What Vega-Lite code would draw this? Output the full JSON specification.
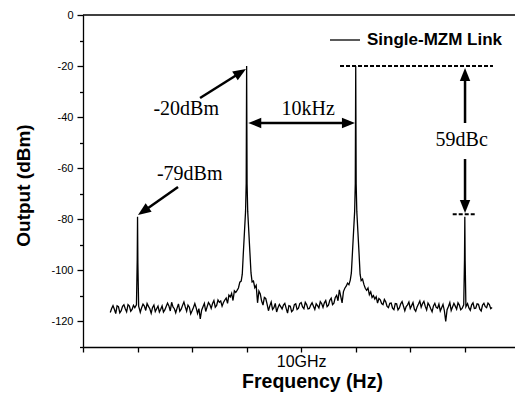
{
"$schema": "https://vega.github.io/schema/vega-lite/v6.json",
"width": 432, "height": 332,
"autosize": {"type": "none"},
"padding": {"left": 83, "top": 15, "right": 0, "bottom": 51},
"config": {
  "font": "Liberation Sans",
  "view": {"stroke": null},
  "axis": {"grid": false, "domainColor": "black", "tickColor": "black", "labelColor": "black", "titleColor": "black", "domainWidth": 1.3, "tickWidth": 1.3}
},
"encoding": {
  "x": {"field": "f", "type": "quantitative", "scale": {"domain": [-20, 19.6], "nice": false, "zero": false},
    "axis": {"title": "Frequency (Hz)", "values": [-20,-15,-10,-5,0,5,10,15], "labelExpr": "datum.value === 0 ? '10GHz' : ''", "labelFontSize": 16, "labelPadding": 1, "tickSize": 5, "labelFlush": false, "labelOverlap": false, "titleFontSize": 19.5, "titleFontWeight": "bold", "titleX": 229, "titleY": 40, "titleBaseline": "alphabetic"}},
  "y": {"field": "p", "type": "quantitative", "scale": {"domain": [-130, 0], "nice": false, "zero": false},
    "axis": {"title": "Output (dBm)", "values": [0,-10,-20,-30,-40,-50,-60,-70,-80,-90,-100,-110,-120,-130], "labelExpr": "datum.value % 20 === 0 ? '' + datum.value : ''", "labelFontSize": 11, "labelPadding": 4, "labelFlush": false, "labelOverlap": false, "tickSize": {"condition": {"test": "datum.value % 20 !== 0", "value": 3.5}, "value": 6}, "titleFontSize": 19, "titleFontWeight": "bold", "titleX": -60, "titleY": 170, "titleBaseline": "middle", "titleAngle": -90}}
},
"layer": [
  {
    "data": {"values": [{"f": -20, "p": 0, "f2": 19.6, "p2": 0}]},
    "mark": {"type": "rule", "color": "black", "strokeWidth": 1.3},
    "encoding": {"x2": {"field": "f2"}, "y2": {"field": "p2"}}
  },
  {
    "data": {"values": [
{"f":-17.5,"p":-116.5},{"f":-17.375,"p":-114.9},{"f":-17.25,"p":-113.8},{"f":-17.125,"p":-115.2},{"f":-17,"p":-116.9},{"f":-16.875,"p":-113.9},{"f":-16.75,"p":-114.2},{"f":-16.625,"p":-116.6},{"f":-16.5,"p":-115.8},{"f":-16.375,"p":-114.1},{"f":-16.25,"p":-113.5},{"f":-16.125,"p":-115.0},{"f":-16,"p":-116.2},{"f":-15.875,"p":-113.4},{"f":-15.75,"p":-114.0},{"f":-15.625,"p":-116.0},{"f":-15.5,"p":-115.3},{"f":-15.375,"p":-113.7},{"f":-15.25,"p":-114.6},{"f":-15.1,"p":-113.5},{"f":-15.03,"p":-96},{"f":-15,"p":-79},{"f":-14.97,"p":-97},{"f":-14.9,"p":-114},{"f":-14.825,"p":-115.2},{"f":-14.75,"p":-116.4},{"f":-14.625,"p":-114.6},{"f":-14.5,"p":-113.2},{"f":-14.375,"p":-114.0},{"f":-14.25,"p":-115.7},{"f":-14.125,"p":-113.0},{"f":-14,"p":-114.1},{"f":-13.875,"p":-115.0},{"f":-13.75,"p":-116.8},{"f":-13.625,"p":-114.5},{"f":-13.5,"p":-113.6},{"f":-13.375,"p":-116.1},{"f":-13.25,"p":-115.0},{"f":-13.125,"p":-114.0},{"f":-13,"p":-116.3},{"f":-12.875,"p":-115.2},{"f":-12.75,"p":-113.9},{"f":-12.625,"p":-116.3},{"f":-12.5,"p":-115.5},{"f":-12.375,"p":-114.1},{"f":-12.25,"p":-112.8},{"f":-12.125,"p":-113.9},{"f":-12,"p":-115.9},{"f":-11.875,"p":-112.5},{"f":-11.75,"p":-114.3},{"f":-11.625,"p":-115.0},{"f":-11.5,"p":-116.6},{"f":-11.375,"p":-114.8},{"f":-11.25,"p":-113.1},{"f":-11.125,"p":-116.0},{"f":-11,"p":-115.2},{"f":-10.875,"p":-113.7},{"f":-10.75,"p":-112.4},{"f":-10.625,"p":-114.3},{"f":-10.5,"p":-116.0},{"f":-10.375,"p":-113.6},{"f":-10.25,"p":-114.4},{"f":-10.125,"p":-117.0},{"f":-10,"p":-115.8},{"f":-9.875,"p":-114.5},{"f":-9.75,"p":-113.0},{"f":-9.625,"p":-114.7},{"f":-9.5,"p":-116.9},{"f":-9.375,"p":-115.0},{"f":-9.25,"p":-119.0},{"f":-9.125,"p":-115.6},{"f":-9,"p":-114.2},{"f":-8.875,"p":-112.9},{"f":-8.75,"p":-116.1},{"f":-8.625,"p":-114.3},{"f":-8.5,"p":-112.6},{"f":-8.375,"p":-113.4},{"f":-8.25,"p":-114.9},{"f":-8.125,"p":-113.0},{"f":-8,"p":-111.8},{"f":-7.875,"p":-114.4},{"f":-7.75,"p":-113.7},{"f":-7.625,"p":-111.6},{"f":-7.5,"p":-112.5},{"f":-7.375,"p":-112.0},{"f":-7.25,"p":-114.0},{"f":-7.125,"p":-112.6},{"f":-7,"p":-111.6},{"f":-6.875,"p":-110.8},{"f":-6.75,"p":-112.9},{"f":-6.625,"p":-109.7},{"f":-6.5,"p":-110.4},{"f":-6.375,"p":-109.0},{"f":-6.25,"p":-111.8},{"f":-6.125,"p":-108.0},{"f":-6,"p":-108.6},{"f":-5.875,"p":-107.8},{"f":-5.75,"p":-106.9},{"f":-5.625,"p":-104.6},{"f":-5.5,"p":-104.2},{"f":-5.4,"p":-101.5},{"f":-5.3,"p":-93},{"f":-5.2,"p":-85},{"f":-5.1,"p":-77},{"f":-5.04,"p":-66},{"f":-5,"p":-20},{"f":-4.96,"p":-66},{"f":-4.9,"p":-77},{"f":-4.8,"p":-85},{"f":-4.7,"p":-93},{"f":-4.6,"p":-101},{"f":-4.5,"p":-104.5},{"f":-4.375,"p":-104.2},{"f":-4.25,"p":-106.8},{"f":-4.125,"p":-105.9},{"f":-4,"p":-112.7},{"f":-3.875,"p":-108.1},{"f":-3.75,"p":-109.2},{"f":-3.625,"p":-112.0},{"f":-3.5,"p":-113.6},{"f":-3.375,"p":-110.6},{"f":-3.25,"p":-111.0},{"f":-3.125,"p":-113.2},{"f":-3,"p":-115.8},{"f":-2.875,"p":-113.9},{"f":-2.75,"p":-112.4},{"f":-2.625,"p":-115.3},{"f":-2.5,"p":-114.6},{"f":-2.375,"p":-112.9},{"f":-2.25,"p":-116.3},{"f":-2.125,"p":-114.6},{"f":-2,"p":-113.3},{"f":-1.875,"p":-114.2},{"f":-1.75,"p":-115.1},{"f":-1.625,"p":-113.6},{"f":-1.5,"p":-112.9},{"f":-1.375,"p":-114.9},{"f":-1.25,"p":-116.7},{"f":-1.125,"p":-113.8},{"f":-1,"p":-114.0},{"f":-0.875,"p":-116.2},{"f":-0.75,"p":-115.6},{"f":-0.625,"p":-113.4},{"f":-0.5,"p":-113.1},{"f":-0.375,"p":-115.3},{"f":-0.25,"p":-114.8},{"f":-0.125,"p":-113.0},{"f":0,"p":-112.6},{"f":0.125,"p":-114.3},{"f":0.25,"p":-115.0},{"f":0.375,"p":-112.5},{"f":0.5,"p":-113.4},{"f":0.625,"p":-115.1},{"f":0.75,"p":-114.9},{"f":0.875,"p":-113.6},{"f":1,"p":-112.7},{"f":1.125,"p":-114.0},{"f":1.25,"p":-115.3},{"f":1.375,"p":-113.1},{"f":1.5,"p":-113.8},{"f":1.625,"p":-114.7},{"f":1.75,"p":-112.2},{"f":1.875,"p":-113.0},{"f":2,"p":-114.5},{"f":2.125,"p":-112.7},{"f":2.25,"p":-111.8},{"f":2.375,"p":-114.2},{"f":2.5,"p":-113.6},{"f":2.625,"p":-111.7},{"f":2.75,"p":-110.9},{"f":2.875,"p":-113.4},{"f":3,"p":-112.8},{"f":3.125,"p":-110.6},{"f":3.25,"p":-109.8},{"f":3.375,"p":-111.9},{"f":3.5,"p":-107.6},{"f":3.625,"p":-110.2},{"f":3.75,"p":-112.7},{"f":3.875,"p":-108.3},{"f":4,"p":-107.0},{"f":4.125,"p":-106.2},{"f":4.25,"p":-105.0},{"f":4.375,"p":-105.6},{"f":4.5,"p":-103.8},{"f":4.6,"p":-101},{"f":4.7,"p":-93},{"f":4.8,"p":-85},{"f":4.9,"p":-77},{"f":4.96,"p":-66},{"f":5,"p":-20},{"f":5.04,"p":-66},{"f":5.1,"p":-77},{"f":5.2,"p":-85},{"f":5.3,"p":-93},{"f":5.4,"p":-101.5},{"f":5.5,"p":-104.0},{"f":5.625,"p":-103.4},{"f":5.75,"p":-105.5},{"f":5.875,"p":-107.0},{"f":6,"p":-107.8},{"f":6.125,"p":-106.9},{"f":6.25,"p":-109.5},{"f":6.375,"p":-108.4},{"f":6.5,"p":-110.6},{"f":6.625,"p":-109.9},{"f":6.75,"p":-111.2},{"f":6.875,"p":-110.3},{"f":7,"p":-112.8},{"f":7.125,"p":-111.0},{"f":7.25,"p":-111.5},{"f":7.375,"p":-113.0},{"f":7.5,"p":-113.4},{"f":7.625,"p":-111.4},{"f":7.75,"p":-112.3},{"f":7.875,"p":-114.1},{"f":8,"p":-114.6},{"f":8.125,"p":-112.9},{"f":8.25,"p":-112.8},{"f":8.375,"p":-114.8},{"f":8.5,"p":-115.4},{"f":8.625,"p":-113.0},{"f":8.75,"p":-113.1},{"f":8.875,"p":-115.5},{"f":9,"p":-114.7},{"f":9.125,"p":-113.1},{"f":9.25,"p":-112.2},{"f":9.375,"p":-114.0},{"f":9.5,"p":-115.8},{"f":9.625,"p":-114.2},{"f":9.75,"p":-113.5},{"f":9.875,"p":-112.4},{"f":10,"p":-114.9},{"f":10.125,"p":-113.8},{"f":10.25,"p":-112.6},{"f":10.375,"p":-115.2},{"f":10.5,"p":-116.0},{"f":10.625,"p":-114.3},{"f":10.75,"p":-113.2},{"f":10.875,"p":-112.0},{"f":11,"p":-114.4},{"f":11.125,"p":-113.0},{"f":11.25,"p":-112.1},{"f":11.375,"p":-114.1},{"f":11.5,"p":-115.5},{"f":11.625,"p":-112.8},{"f":11.75,"p":-113.7},{"f":11.875,"p":-115.0},{"f":12,"p":-116.2},{"f":12.125,"p":-113.9},{"f":12.25,"p":-112.9},{"f":12.375,"p":-114.5},{"f":12.5,"p":-114.8},{"f":12.625,"p":-113.2},{"f":12.75,"p":-115.9},{"f":12.875,"p":-114.6},{"f":13,"p":-113.3},{"f":13.125,"p":-115.8},{"f":13.25,"p":-120.0},{"f":13.375,"p":-115.4},{"f":13.5,"p":-114.1},{"f":13.625,"p":-112.6},{"f":13.75,"p":-115.7},{"f":13.875,"p":-114.3},{"f":14,"p":-112.9},{"f":14.125,"p":-114.0},{"f":14.25,"p":-115.2},{"f":14.375,"p":-112.7},{"f":14.5,"p":-113.6},{"f":14.625,"p":-115.4},{"f":14.75,"p":-114.9},{"f":14.9,"p":-113.5},{"f":14.97,"p":-96},{"f":15,"p":-79},{"f":15.03,"p":-96},{"f":15.1,"p":-114.2},{"f":15.25,"p":-113.0},{"f":15.375,"p":-114.7},{"f":15.5,"p":-115.6},{"f":15.625,"p":-113.5},{"f":15.75,"p":-112.7},{"f":15.875,"p":-114.9},{"f":16,"p":-114.8},{"f":16.125,"p":-113.1},{"f":16.25,"p":-113.3},{"f":16.375,"p":-115.2},{"f":16.5,"p":-115.9},{"f":16.625,"p":-113.6},{"f":16.75,"p":-112.9},{"f":16.875,"p":-114.2},{"f":17,"p":-114.6},{"f":17.125,"p":-112.8},{"f":17.25,"p":-113.4},{"f":17.375,"p":-115.0},{"f":17.5,"p":-114.5}
    ]},
    "mark": {"type": "line", "strokeWidth": 1.3},
    "encoding": {
      "color": {"datum": "Single-MZM Link", "scale": {"range": ["black"]},
        "legend": {"orient": "none", "legendX": 246, "legendY": 9, "title": null, "symbolType": "stroke", "symbolSize": 900, "symbolStrokeWidth": 1.3, "symbolStrokeColor": "black", "labelFontSize": 17, "labelFontWeight": "bold", "labelOffset": 6, "labelColor": "black", "padding": 0}}
    }
  },
  {
    "data": {"values": [
      {"f": -9.27, "p": -32.5, "f2": -5.44, "p2": -22.2},
      {"f": -11.29, "p": -67.35, "f2": -14.58, "p2": -77.2},
      {"f": -4.4, "p": -42.3, "f2": 4.45, "p2": -42.3},
      {"f": 15.02, "p": -42.3, "f2": 15.02, "p2": -22.7},
      {"f": 15.02, "p": -56.4, "f2": 15.02, "p2": -75.5}
    ]},
    "mark": {"type": "rule", "color": "black", "strokeWidth": 2.5},
    "encoding": {"x2": {"field": "f2"}, "y2": {"field": "p2"}}
  },
  {
    "data": {"values": [
      {"f": 3.56, "p": -20, "f2": 17.58, "p2": -20},
      {"f": 13.89, "p": -78, "f2": 16.03, "p2": -78}
    ]},
    "mark": {"type": "rule", "color": "black", "strokeWidth": 2, "strokeDash": [4, 2]},
    "encoding": {"x2": {"field": "f2"}, "y2": {"field": "p2"}}
  },
  {
    "data": {"values": [
      {"f": -5.06, "p": -21.1, "a": 327.8},
      {"f": -14.96, "p": -78.3, "a": 145},
      {"f": -4.85, "p": -42.3, "a": 180},
      {"f": 4.93, "p": -42.3, "a": 0},
      {"f": 15.02, "p": -20.75, "a": 270},
      {"f": 15.02, "p": -77.5, "a": 90}
    ]},
    "mark": {"type": "point", "shape": "M0,0L-1,-0.4L-1,0.4Z", "size": 676, "filled": true, "color": "black", "opacity": 1, "strokeWidth": 0},
    "encoding": {"angle": {"field": "a", "type": "quantitative", "scale": null}}
  },
  {
    "data": {"values": [
      {"f": -10.54, "p": -39.16, "t": "-20dBm"},
      {"f": -10.22, "p": -64.6, "t": "-79dBm"},
      {"f": 0.64, "p": -39.16, "t": "10kHz"},
      {"f": 14.71, "p": -51.2, "t": "59dBc"}
    ]},
    "mark": {"type": "text", "font": "Liberation Serif", "fontSize": 20, "align": "center", "baseline": "alphabetic", "color": "black"},
    "encoding": {"text": {"field": "t"}}
  }
]
}
